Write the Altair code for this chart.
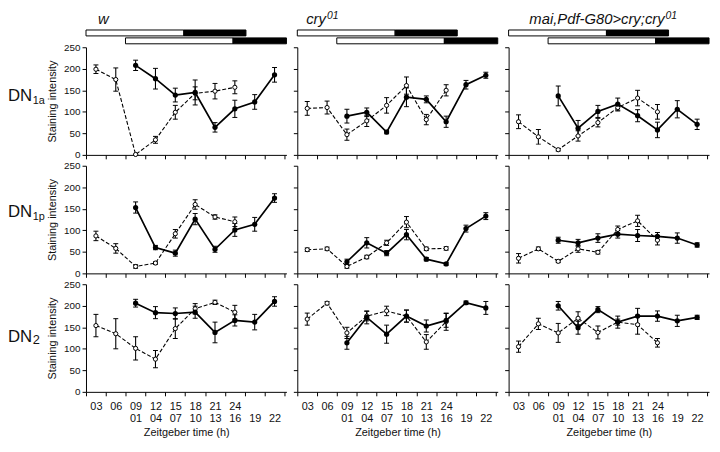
import altair as alt
import pandas as pd

FONT = "Liberation Sans"
INK = "#111111"

# ---------------- axis categories ----------------
pos_open = [0, 1, 2, 3, 4, 5, 6, 7]      # ZT03 ... ZT24 (dashed line, open circles)
pos_filled = [2, 3, 4, 5, 6, 7, 8, 9]    # ZT01 ... ZT22 (solid line, filled circles)
tick_upper = ["03", "06", "09", "12", "15", "18", "21", "24", "", ""]
tick_lower = ["", "", "01", "04", "07", "10", "13", "16", "19", "22"]
x_tick_values = [-0.5, 0, 0.5, 1, 1.5, 2, 2.5, 3, 3.5, 4, 4.5, 5, 5.5, 6, 6.5,
                 7, 7.5, 8, 8.5, 9, 9.5]
y_ticks = [0, 50, 100, 150, 200, 250]

row_main = ["DN", "DN", "DN"]
row_sub = ["1a", "1p", "2"]
col_main = ["w", "cry", "mai,Pdf-G80>cry;cry"]
col_sup = ["", "01", "01"]

# light / dark bars (x units): start, lights-off, end
bar_upper = [-0.5, 4.43, 7.56]
bar_lower = [1.49, 6.91, 9.6]

# ---------------- values ----------------
dn1a_w_open = [199, 175, 1, 35, 99, 143, 148, 157]
dn1a_w_open_err = [10, 27, 0, 8, 16, 15, 18, 15]
dn1a_w_fill = [208, 177, 139, 145, 64, 107, 123, 186]
dn1a_w_fill_err = [12, 24, 16, 29, 11, 20, 17, 17]

dn1a_cry_open = [108, 110, 47, 79, 115, 161, 82, 150]
dn1a_cry_open_err = [16, 15, 13, 13, 18, 20, 12, 13]
dn1a_cry_fill = [90, 99, 53, 134, 129, 77, 163, 185]
dn1a_cry_fill_err = [16, 10, 4, 22, 8, 13, 10, 7]

dn1a_mai_open = [77, 42, 12, 44, 75, 110, 132, 100]
dn1a_mai_open_err = [16, 17, 3, 12, 10, 8, 18, 17]
dn1a_mai_fill = [137, 62, 101, 118, 91, 58, 106, 71]
dn1a_mai_fill_err = [23, 18, 14, 14, 14, 18, 20, 12]

dn1p_w_open = [87, 58, 16, 24, 92, 160, 131, 120]
dn1p_w_open_err = [11, 11, 4, 3, 10, 11, 5, 11]
dn1p_w_fill = [153, 60, 47, 126, 56, 101, 114, 175]
dn1p_w_fill_err = [13, 5, 7, 13, 7, 15, 16, 10]

dn1p_cry_open = [55, 57, 16, 38, 71, 119, 57, 58]
dn1p_cry_open_err = [4, 4, 4, 4, 6, 13, 4, 4]
dn1p_cry_fill = [27, 71, 47, 90, 33, 22, 104, 133]
dn1p_cry_fill_err = [6, 12, 6, 12, 4, 3, 8, 8]

dn1p_mai_open = [35, 57, 28, 57, 49, 102, 122, 77]
dn1p_mai_open_err = [11, 4, 3, 8, 4, 8, 13, 11]
dn1p_mai_fill = [77, 71, 82, 91, 88, 86, 82, 66]
dn1p_mai_fill_err = [7, 8, 10, 9, 14, 9, 12, 5]

dn2_w_open = [154, 135, 101, 76, 147, 193, 208, 185]
dn2_w_open_err = [26, 35, 27, 20, 23, 12, 5, 16]
dn2_w_fill = [206, 184, 182, 185, 138, 166, 162, 210]
dn2_w_fill_err = [9, 14, 13, 14, 24, 13, 18, 11]

dn2_cry_open = [169, 206, 137, 176, 188, 176, 116, 163]
dn2_cry_open_err = [14, 4, 13, 11, 11, 14, 17, 20]
dn2_cry_fill = [114, 173, 134, 176, 153, 166, 207, 195]
dn2_cry_fill_err = [15, 15, 21, 14, 14, 16, 4, 15]

dn2_mai_open = [105, 158, 137, 171, 138, 162, 156, 114]
dn2_mai_open_err = [13, 13, 22, 15, 15, 7, 22, 10]
dn2_mai_fill = [200, 149, 191, 162, 176, 176, 165, 173]
dn2_mai_fill_err = [10, 15, 7, 14, 18, 12, 13, 5]

DATA = [
    [(dn1a_w_open, dn1a_w_open_err, dn1a_w_fill, dn1a_w_fill_err),
     (dn1a_cry_open, dn1a_cry_open_err, dn1a_cry_fill, dn1a_cry_fill_err),
     (dn1a_mai_open, dn1a_mai_open_err, dn1a_mai_fill, dn1a_mai_fill_err)],
    [(dn1p_w_open, dn1p_w_open_err, dn1p_w_fill, dn1p_w_fill_err),
     (dn1p_cry_open, dn1p_cry_open_err, dn1p_cry_fill, dn1p_cry_fill_err),
     (dn1p_mai_open, dn1p_mai_open_err, dn1p_mai_fill, dn1p_mai_fill_err)],
    [(dn2_w_open, dn2_w_open_err, dn2_w_fill, dn2_w_fill_err),
     (dn2_cry_open, dn2_cry_open_err, dn2_cry_fill, dn2_cry_fill_err),
     (dn2_mai_open, dn2_mai_open_err, dn2_mai_fill, dn2_mai_fill_err)],
]

# ---------------- layout / style ----------------
W, H = 203, 109
row_base = [54, 52, 58]          # baseline of row label inside panel
sub_size = [11, 11, 13]
title_end = [23, 29, 158]        # right end of column title (px from panel left)

xscale = alt.Scale(domain=[-0.5, 9.6], nice=False, zero=False)
yscale = alt.Scale(domain=[0, 250], nice=False, zero=True)

NB = "\u00a0"
arr = "[" + ",".join(
    "['%s','%s']" % (a if a else NB, b if b else NB) for a, b in zip(tick_upper, tick_lower)
) + "]"
label_expr = "(datum.value %% 1 === 0 && datum.value >= 0) ? %s[datum.value] : ''" % arr


def x_axis(show):
    return alt.Axis(
        values=x_tick_values,
        labels=show,
        title="Zeitgeber time (h)" if show else None,
        labelExpr=label_expr,
        labelOverlap=False,
        labelFlush=False,
        labelBound=False,
        labelLineHeight=12.5,
        labelPadding=5,
        titlePadding=3,
        tickOpacity={"condition": {"test": "datum.value % 1 !== 0", "value": 1}, "value": 0},
    )


def y_axis(show):
    return alt.Axis(
        values=y_ticks,
        labels=show,
        title="Staining intensity" if show else None,
        labelPadding=2,
        labelFontSize=10,
        titlePadding=6,
    )


def make_panel(r, c):
    ov, oe, fv, fe = DATA[r][c]
    d_open = pd.DataFrame({"pos": pos_open, "val": ov,
                           "lo": [v - e for v, e in zip(ov, oe)],
                           "hi": [v + e for v, e in zip(ov, oe)]})
    d_fill = pd.DataFrame({"pos": pos_filled, "val": fv,
                           "lo": [v - e for v, e in zip(fv, fe)],
                           "hi": [v + e for v, e in zip(fv, fe)]})
    xax = x_axis(r == 2)
    yax = y_axis(c == 0)
    X = alt.X("pos:Q", scale=xscale, axis=xax)

    def Y(f):
        return alt.Y(f + ":Q", scale=yscale, axis=yax)

    bo = alt.Chart(d_open)
    bf = alt.Chart(d_fill)
    layers = [
        bo.mark_line(color="black", strokeWidth=1.1, strokeDash=[4, 2]).encode(x=X, y=Y("val")),
        bf.mark_line(color="black", strokeWidth=1.7).encode(x=X, y=Y("val")),
    ]
    for b in (bo, bf):
        layers.append(b.mark_rule(color="black", strokeWidth=1.1).encode(x=X, y=Y("lo"), y2="hi:Q"))
        layers.append(b.mark_tick(color="black", orient="horizontal", size=5, thickness=1,
                                  opacity=1).encode(x=X, y=Y("lo")))
        layers.append(b.mark_tick(color="black", orient="horizontal", size=5, thickness=1,
                                  opacity=1).encode(x=X, y=Y("hi")))
    layers.append(bo.mark_point(shape="circle", filled=True, fill="white", stroke="black",
                                strokeWidth=1, size=18, opacity=1).encode(x=X, y=Y("val")))
    layers.append(bf.mark_circle(color="black", size=28, opacity=1).encode(x=X, y=Y("val")))

    if c == 0:
        lab = pd.DataFrame({"main": [row_main[r]], "sub": [row_sub[r]]})
        layers.append(alt.Chart(lab).mark_text(align="left", baseline="alphabetic", fontSize=17,
                                               font=FONT, color=INK).encode(
            text="main:N", x=alt.value(-79), y=alt.value(row_base[r])))
        layers.append(alt.Chart(lab).mark_text(align="left", baseline="alphabetic",
                                               fontSize=sub_size[r], font=FONT, color=INK).encode(
            text="sub:N", x=alt.value(-54), y=alt.value(row_base[r] + 3)))

    if r == 0:
        phase_scale = alt.Scale(domain=["light", "dark"], range=["white", "black"])
        for bar, y0, y1 in ((bar_upper, -17.5, -11.5), (bar_lower, -9.5, -3.5)):
            bdf = pd.DataFrame({"start": [bar[0], bar[1]], "end": [bar[1], bar[2]],
                                "phase": ["light", "dark"]})
            layers.append(alt.Chart(bdf).mark_rect(stroke="black", strokeWidth=1).encode(
                x=alt.X("start:Q", scale=xscale, axis=xax), x2="end:Q",
                y=alt.value(y0), y2=alt.value(y1),
                fill=alt.Fill("phase:N", scale=phase_scale, legend=None)))
        tdf = pd.DataFrame({"main": [col_main[c]], "sup": [col_sup[c]]})
        layers.append(alt.Chart(tdf).mark_text(align="right", baseline="alphabetic", fontSize=15,
                                               fontStyle="italic", font=FONT, color=INK).encode(
            text="main:N", x=alt.value(title_end[c]), y=alt.value(-24)))
        if col_sup[c]:
            layers.append(alt.Chart(tdf).mark_text(align="left", baseline="alphabetic",
                                                   fontSize=10.5, fontStyle="italic", font=FONT,
                                                   color=INK).encode(
                text="sup:N", x=alt.value(title_end[c] + 1), y=alt.value(-29)))

    return alt.layer(*layers).properties(width=W, height=H)


panels = [make_panel(r, c) for r in range(3) for c in range(3)]

chart = alt.concat(*panels, columns=3, spacing=11, bounds="flush").properties(
    padding={"left": 0, "top": 0, "right": 2, "bottom": 0}
).configure(font=FONT).configure_view(stroke=None).configure_axis(
    domainColor="black", domainWidth=1, tickColor="black", tickWidth=1, tickSize=4,
    labelColor=INK, titleColor=INK, labelFont=FONT, titleFont=FONT,
    labelFontSize=11, titleFontSize=11, titleFontWeight="normal", grid=False,
)

chart.save("out.html", embed_options={"renderer": "svg", "actions": False})
